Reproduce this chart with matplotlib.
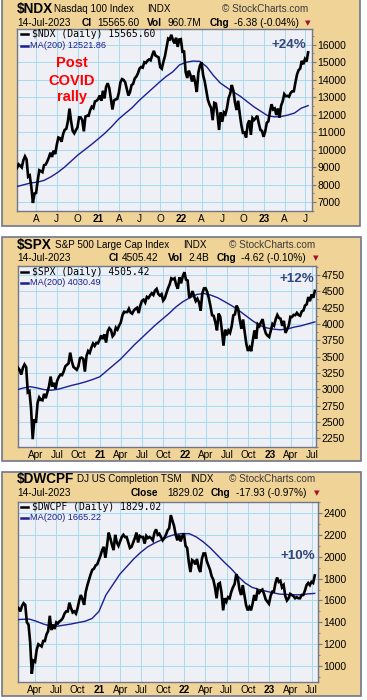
import pandas as pd
import matplotlib
matplotlib.use("Agg")
import matplotlib.pyplot as plt
from matplotlib.patches import Rectangle
from matplotlib.lines import Line2D

W, H = 367, 700

# -------------------
# Data (weekly closes and monthly 200-day MA)
# -------------------

ndx_close = [
    8960, 9170, 9090, 8990, 9400, 9620, 9450, 8460, 8530, 7880, 6960, 7500,
    7530, 8230, 8830, 8780, 8720, 9120, 9150, 9330, 9550, 9830, 9590, 9950, 9750,
    10280, 10700, 10660, 10460, 10900, 11140, 11200, 11630, 12350,
    11620, 11080, 10940, 11120, 11270, 11850, 11850, 11700, 11050,
    11900, 11940, 11940, 12260, 12460, 12380, 12760, 12800, 12890,
    13100, 12800, 13370, 12930, 13590, 13800, 13530, 12910, 12300, 12820, 12880, 12900,
    13250, 13850, 14040, 13990, 13860, 13470, 13100, 13290, 13690,
    13770, 14070, 14180, 14360, 14640, 14730, 14690, 15000, 14960,
    15090, 15160, 15110, 15400, 15650, 15390, 15330, 15280,
    14720, 14630, 15020, 15350, 15850, 16350, 16300, 16570, 16260,
    16080, 16400, 15880, 16300, 16320,
    15600, 15610, 14440, 14100, 14520, 14270, 13900, 14250, 13840, 13300, 14420, 14810,
    15000, 14260, 13900, 13370, 12850, 12580, 12390, 11690, 12680,
    12640, 12010, 11130, 12130, 11600, 12130, 12030, 12390, 12950,
    13200, 13700, 13380, 12700, 12270, 12800, 12060, 11420, 10970,
    10990, 10700, 11460, 11680, 10850, 11810, 11700, 11800,
    11950, 11500, 11130, 11080, 10740,
    11040, 11540, 11620, 12170, 12600, 12300, 12360, 11990,
    12360, 11830, 12520, 12770, 13180, 13060, 13080, 13030, 13250,
    13340, 13340, 13840, 14300, 14550, 14640, 15080, 14890, 15180, 15040, 15566,
]
ndx_ma200 = [
    7900, 8000, 8100, 8150, 8250, 8450, 8700, 9000, 9350, 9700, 10000, 10300,
    10620, 10950, 11330, 11750, 12080, 12400, 12800, 13150, 13500, 13850, 14180, 14450,
    14850, 15000, 15070, 15050, 14750, 14250, 13820, 13550, 13300, 13050, 12750, 12450,
    12200, 11950, 11880, 11900, 11980, 12100, 12380, 12522,
]

spx_close = [
    3265, 3330, 3295, 3225, 3328, 3380, 3338, 2954, 2972, 2711, 2237, 2541,
    2489, 2790, 2875, 2837, 2831, 2930, 2864, 2955, 3044, 3194, 3041, 3098, 3009,
    3130, 3185, 3225, 3216, 3271, 3351, 3373, 3397, 3560,
    3427, 3341, 3319, 3298, 3348, 3477, 3484, 3465, 3270,
    3509, 3585, 3558, 3638, 3699, 3663, 3709, 3703, 3756,
    3824, 3768, 3841, 3714, 3886, 3934, 3906, 3811, 3842, 3943, 3913, 3974,
    4019, 4128, 4185, 4180, 4181, 4232, 4173, 4156, 4204,
    4230, 4247, 4166, 4281, 4352, 4370, 4327, 4412, 4395,
    4437, 4468, 4442, 4509, 4535, 4459, 4433, 4455,
    4357, 4391, 4471, 4545, 4605, 4697, 4682, 4698, 4595,
    4538, 4712, 4620, 4725, 4790,
    4677, 4663, 4398, 4432, 4501, 4419, 4349, 4385, 4329, 4204, 4463, 4543,
    4546, 4488, 4393, 4272, 4132, 4123, 4024, 3901, 4158,
    4109, 3901, 3667, 3912, 3825, 3899, 3863, 3962, 4130,
    4145, 4280, 4228, 4058, 3924, 4067, 3873, 3693, 3586,
    3640, 3583, 3753, 3901, 3771, 3993, 3965, 4026,
    4072, 3934, 3852, 3820, 3800,
    3895, 3999, 3973, 4071, 4136, 4090, 4079, 3970,
    4046, 3862, 3917, 3971, 4109, 4105, 4138, 4133, 4169,
    4136, 4124, 4192, 4205, 4282, 4299, 4410, 4348, 4450, 4399, 4505,
]
spx_ma200 = [
    2990, 3020, 3040, 3020, 2995, 2985, 3000, 3030, 3060, 3085, 3115, 3150,
    3190, 3280, 3370, 3460, 3570, 3680, 3780, 3880, 3980, 4070, 4160, 4260,
    4340, 4400, 4450, 4465, 4440, 4400, 4340, 4280, 4210, 4130, 4050, 3980,
    3940, 3920, 3910, 3920, 3950, 3970, 4000, 4030,
]

dwcpf_close = [
    1510, 1540, 1530, 1500, 1550, 1575, 1560, 1400, 1380, 1220, 930, 1050,
    1040, 1150, 1200, 1190, 1180, 1230, 1230, 1290, 1320, 1460, 1330, 1380, 1340,
    1400, 1390, 1410, 1420, 1440, 1480, 1500, 1500, 1580,
    1530, 1490, 1500, 1480, 1530, 1600, 1650, 1610, 1560,
    1680, 1740, 1790, 1840, 1880, 1890, 1920, 1930, 1970,
    2010, 2060, 2090, 1990, 2100, 2220, 2170, 2110, 2060, 2200, 2130, 2100,
    2140, 2180, 2200, 2180, 2180, 2130, 2080, 2090, 2130,
    2170, 2220, 2130, 2190, 2180, 2180, 2120, 2190, 2170,
    2180, 2170, 2150, 2220, 2250, 2200, 2210, 2180,
    2150, 2170, 2200, 2240, 2260, 2380, 2330, 2280, 2200,
    2150, 2200, 2140, 2190, 2210,
    2100, 2080, 1950, 1860, 1970, 1960, 1930, 1980, 1900, 1860, 1980, 2030,
    2030, 1960, 1920, 1880, 1820, 1790, 1720, 1620, 1750,
    1760, 1670, 1510, 1620, 1590, 1630, 1620, 1680, 1720,
    1750, 1840, 1800, 1700, 1650, 1740, 1650, 1560, 1510,
    1540, 1510, 1570, 1650, 1600, 1690, 1670, 1690,
    1700, 1660, 1610, 1590, 1570,
    1640, 1680, 1680, 1760, 1810, 1770, 1780, 1720,
    1740, 1640, 1600, 1620, 1660, 1650, 1640, 1620, 1630,
    1620, 1620, 1650, 1650, 1690, 1740, 1760, 1740, 1770, 1760, 1829,
]
dwcpf_ma200 = [
    1423, 1428, 1430, 1410, 1385, 1368, 1365, 1375, 1385, 1398, 1410, 1435,
    1500, 1650, 1745, 1840, 1910, 1980, 2040, 2090, 2125, 2155, 2185, 2205,
    2212, 2210, 2180, 2135, 2080, 2015, 1950, 1890, 1820, 1760, 1720, 1700,
    1685, 1670, 1658, 1655, 1652, 1652, 1660, 1665,
]

quarter_starts = [
    "2020-04-01", "2020-07-01", "2020-10-01", "2021-01-01", "2021-04-01",
    "2021-07-01", "2021-10-01", "2022-01-01", "2022-04-01", "2022-07-01",
    "2022-10-01", "2023-01-01", "2023-04-01", "2023-07-01",
]
labels_short = ["A", "J", "O", "21", "A", "J", "O", "22", "A", "J", "O", "23", "A", "J"]
labels_long = ["Apr", "Jul", "Oct", "21", "Apr", "Jul", "Oct", "22",
               "Apr", "Jul", "Oct", "23", "Apr", "Jul"]
years = ["21", "22", "23"]

price_dates = pd.date_range("2020-01-08", "2023-07-14", periods=len(ndx_close))
ma_dates = pd.date_range("2020-01-08", "2023-07-14", periods=len(ndx_ma200))

TAN = "#f0d397"
BORDER = "#6f7789"
PLOT_BG = "#eef0f6"
GRID = "#a6daf0"
NAVY = "#1b1f8f"
PCT = "#34457a"
SANS = "Liberation Sans"

fig = plt.figure(figsize=(W / 100, H / 100), dpi=100)
fig.patch.set_facecolor("white")


def fx(x):
    return x / W


def fy(y):
    return 1 - y / H


def txt(x, y, s, size=7.3, bold=False, color="black", ha="left", family=SANS):
    fig.text(fx(x), fy(y), s, fontsize=size, fontweight="bold" if bold else "normal",
             color=color, ha=ha, va="center", family=family)


def panel(box, plot, close, ma, ylim, ystep, xlim, xlabels, yfirst, ylast):
    x0, y0, x1, y1 = box
    fig.add_artist(Rectangle((fx(x0), fy(y1)), fx(x1 - x0), (y1 - y0) / H,
                             transform=fig.transFigure, facecolor=TAN,
                             edgecolor=BORDER, lw=1.2, zorder=0))
    l, t, r, b = plot
    ax = fig.add_axes([fx(l), fy(b), fx(r - l), (b - t) / H])
    ax.set_facecolor(PLOT_BG)

    ax.plot(ma_dates, ma, color=NAVY, lw=1.0, zorder=3)
    ax.plot(price_dates, close, color="black", lw=1.9, zorder=4,
            solid_joinstyle="miter")

    ax.set_xlim(pd.Timestamp(xlim[0]), pd.Timestamp(xlim[1]))
    ax.set_ylim(*ylim)
    ax.set_xticks(pd.to_datetime(quarter_starts))
    ax.set_xticklabels(xlabels)
    for lab in ax.get_xticklabels():
        lab.set_family(SANS)
        if lab.get_text() in years:
            lab.set_fontweight("bold")
    ax.set_yticks(range(yfirst, ylast + 1, ystep))
    ax.set_yticks(range(yfirst - ystep // 2, ylast + ystep, ystep // 2), minor=True)
    ax.yaxis.tick_right()
    ax.tick_params(axis="x", length=0, pad=2.5, labelsize=7.2)
    ax.tick_params(axis="y", which="major", direction="out", length=3, width=0.8,
                   color=BORDER, pad=1, labelsize=7.5)
    ax.tick_params(axis="y", which="minor", direction="out", length=1.5, width=0.6,
                   color=BORDER)
    for lab in ax.get_yticklabels():
        lab.set_family(SANS)
    ax.grid(True, which="major", color=GRID, lw=0.7)
    ax.set_axisbelow(True)
    for sp in ax.spines.values():
        sp.set_color(BORDER)
        sp.set_linewidth(1.0)
    return ax


def legend(y_price, y_ma, price_text, ma_text):
    fig.add_artist(Line2D([fx(21), fx(28)], [fy(y_price)] * 2, color="black",
                          lw=1.8, transform=fig.transFigure, zorder=5))
    txt(32.5, y_price, price_text, size=7, family="DejaVu Sans Mono")
    fig.add_artist(Line2D([fx(21), fx(28)], [fy(y_ma)] * 2, color=NAVY,
                          lw=1.8, transform=fig.transFigure, zorder=5))
    txt(30, y_ma, ma_text, size=6.6, color=NAVY)


# -------------------
# $NDX
# -------------------

panel((2, -2, 360, 226), (17, 29, 312, 211), ndx_close, ndx_ma200,
      (6530, 16900), 1000, ("2020-01-08", "2023-07-31"), labels_short, 7000, 16000)

txt(17, 9.5, "$NDX", size=9.8, bold=True)
txt(54, 9.5, "Nasdaq 100 Index", size=7.1)
txt(147, 9.5, "INDX", size=7.1)
txt(222, 9.5, "\u00a9 StockCharts.com", size=7.2, color="#3a3a3a")
txt(17, 22.7, "14-Jul-2023")
txt(82, 22.7, "Cl", bold=True)
txt(97, 22.7, "15565.60")
txt(147, 22.7, "Vol", bold=True)
txt(168, 22.7, "960.7M")
txt(210, 22.7, "Chg", bold=True)
txt(234, 22.7, "-6.38 (-0.04%)")
txt(305, 22.7, "\u25bc", size=5.2, color="#a0102a", family="DejaVu Sans")

legend(34.3, 45.7, "$NDX (Daily) 15565.60", "MA(200) 12521.86")
txt(289, 45.3, "+24%", size=9.6, bold=True, color=PCT, ha="center")
txt(72, 63, "Post", size=10.5, bold=True, color="#ff0000", ha="center")
txt(72, 80.7, "COVID", size=10.5, bold=True, color="#ff0000", ha="center")
txt(72, 97.5, "rally", size=10.5, bold=True, color="#ff0000", ha="center")

# -------------------
# $SPX
# -------------------

panel((2, 237, 361, 461), (18, 266, 316, 446.5), spx_close, spx_ma200,
      (2150, 4885), 250, ("2020-01-15", "2023-07-19"), labels_long, 2250, 4750)

txt(17, 245, "$SPX", size=9.8, bold=True)
txt(55, 245, "S&P 500 Large Cap Index", size=7.1)
txt(183, 245, "INDX", size=7.1)
txt(229, 245, "\u00a9 StockCharts.com", size=7.2, color="#3a3a3a")
txt(17, 257.7, "14-Jul-2023")
txt(109, 257.7, "Cl", bold=True)
txt(122, 257.7, "4505.42")
txt(168, 257.7, "Vol", bold=True)
txt(188, 257.7, "2.4B")
txt(217, 257.7, "Chg", bold=True)
txt(241, 257.7, "-4.62 (-0.10%)")
txt(313, 257.7, "\u25bc", size=5.2, color="#a0102a", family="DejaVu Sans")

legend(271.5, 282.5, "$SPX (Daily) 4505.42", "MA(200) 4030.49")
txt(297, 278.5, "+12%", size=9.6, bold=True, color=PCT, ha="center")

# -------------------
# $DWCPF
# -------------------

panel((2, 472, 361, 696), (18, 502, 318, 682), dwcpf_close, dwcpf_ma200,
      (855, 2437), 200, ("2020-01-19", "2023-07-28"), labels_long, 1000, 2400)

txt(17, 479.5, "$DWCPF", size=9.8, bold=True)
txt(77, 479.5, "DJ US Completion TSM", size=7.1)
txt(190, 479.5, "INDX", size=7.1)
txt(229, 479.5, "\u00a9 StockCharts.com", size=7.2, color="#3a3a3a")
txt(17, 492.7, "14-Jul-2023")
txt(131, 492.7, "Close", bold=True)
txt(167, 492.7, "1829.02")
txt(211, 492.7, "Chg", bold=True)
txt(236, 492.7, "-17.93 (-0.97%)")
txt(314, 492.7, "\u25bc", size=5.2, color="#a0102a", family="DejaVu Sans")

legend(507, 518, "$DWCPF (Daily) 1829.02", "MA(200) 1665.22")
txt(298, 556, "+10%", size=9.6, bold=True, color=PCT, ha="center")

plt.savefig("out.png", dpi=100)
